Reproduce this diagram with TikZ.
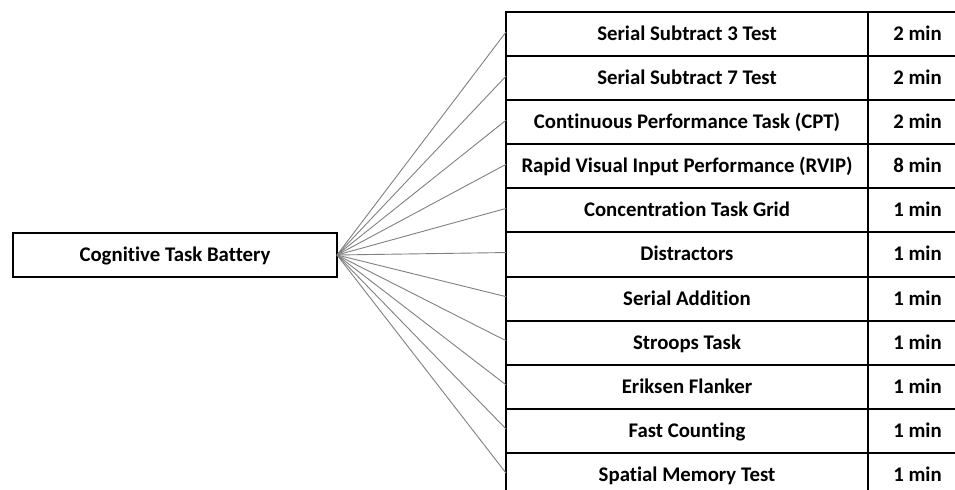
\documentclass[tikz,border=0pt]{standalone}
\usepackage{fontspec}
\setmainfont[Ligatures=NoCommon]{Carlito}
\usetikzlibrary{positioning}

\tikzset{
	cell/.style={draw, line width=1pt, inner sep=0pt, outer sep=0pt, minimum height=22.05pt, text height=0.644em, text depth=0pt, font=\bfseries\fontsize{10.4}{12}\selectfont},
	task/.style={cell, minimum width=181pt},
	dur/.style={cell, minimum width=49.5pt, right=0pt of #1},
	link/.style={draw=gray, line width=0.45pt},
}

\begin{document}
\begin{tikzpicture}
	\useasboundingbox (0,0) rectangle (477.5pt,-245pt);
	\clip (0,0) rectangle (477.5pt,-245pt);

	\node[cell, minimum width=162pt, minimum height=22pt] (battery) at (87.5pt,-127.5pt) {Cognitive Task Battery};

	\node[task, anchor=north west] (r1) at (253pt,-6pt) {Serial Subtract 3 Test};
	\node[task, below=0pt of r1] (r2) {Serial Subtract 7 Test};
	\node[task, below=0pt of r2] (r3) {Continuous Performance Task (CPT)};
	\node[task, below=0pt of r3] (r4) {Rapid Visual Input Performance (RVIP)};
	\node[task, below=0pt of r4] (r5) {Concentration Task Grid};
	\node[task, below=0pt of r5] (r6) {Distractors};
	\node[task, below=0pt of r6] (r7) {Serial Addition};
	\node[task, below=0pt of r7] (r8) {Stroops Task};
	\node[task, below=0pt of r8] (r9) {Eriksen Flanker};
	\node[task, below=0pt of r9] (r10) {Fast Counting};
	\node[task, below=0pt of r10] (r11) {Spatial Memory Test};

	\node[dur=r1] (t1) {2 min};
	\node[dur=r2] (t2) {2 min};
	\node[dur=r3] (t3) {2 min};
	\node[dur=r4] (t4) {8 min};
	\node[dur=r5] (t5) {1 min};
	\node[dur=r6] (t6) {1 min};
	\node[dur=r7] (t7) {1 min};
	\node[dur=r8] (t8) {1 min};
	\node[dur=r9] (t9) {1 min};
	\node[dur=r10] (t10) {1 min};
	\node[dur=r11] (t11) {1 min};

	% fan of links from the battery box
	\foreach \i in {1,...,11}
		\path[link] (battery.east) -- ([yshift=1pt]r\i.west);
\end{tikzpicture}
\end{document}
